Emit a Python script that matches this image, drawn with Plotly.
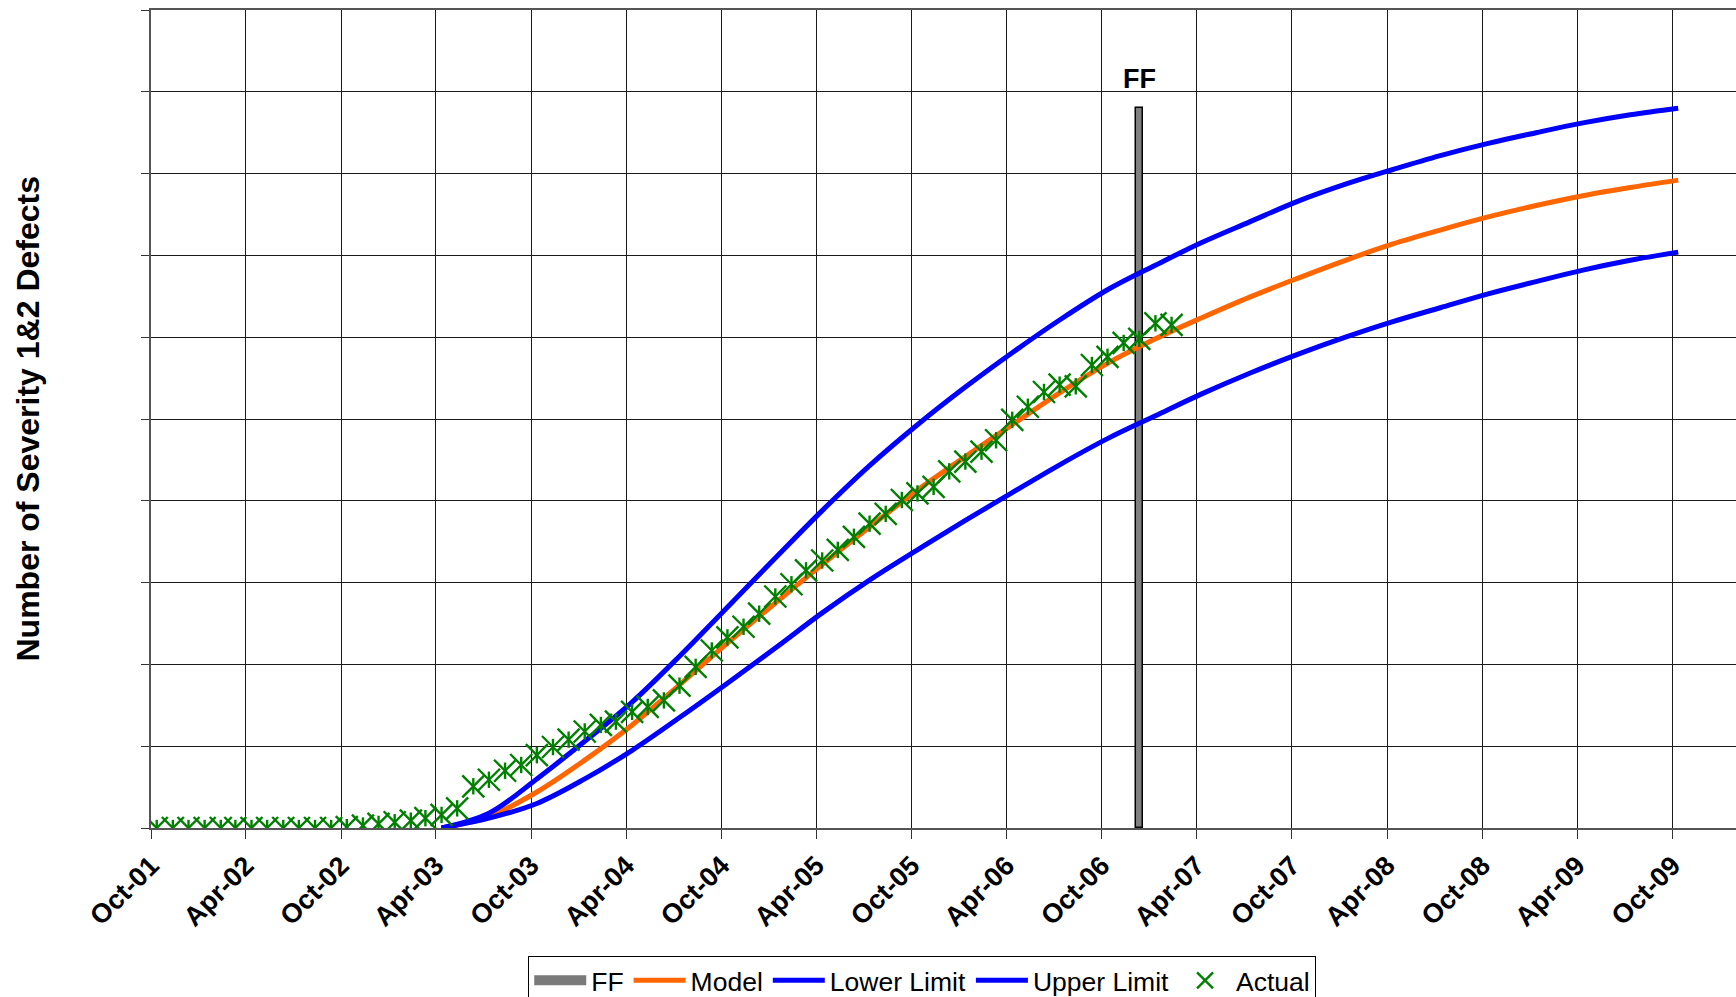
import plotly.graph_objects as go
import pandas as pd

# ---------------- data ----------------
actual_values = [
    0, 0, 0, 0, 0, 0, 0, 0, 0, 0, 0, 0,
    0.1, 0.3, 0.5, 0.7, 0.9, 1.2, 1.6, 2.4, 5.1, 5.9, 7.0, 7.7, 8.9, 9.9,
    10.8, 11.8, 12.6, 13.0, 14.2, 14.8, 15.6, 17.4, 19.7, 21.7, 23.3, 24.6,
    26.2, 28.3, 29.8, 31.5, 32.7, 34.0, 35.6, 37.2, 38.4, 40.1, 40.9, 41.7,
    43.6, 44.8, 46.0, 47.4, 49.9, 51.5, 53.3, 54.2, 54.0, 56.6, 57.6, 59.3,
    59.8, 61.7, 61.5,
]
actual_dates = pd.date_range("2001-10-12", periods=len(actual_values),
                             freq=pd.DateOffset(months=1))

curve_dates = pd.date_range("2003-04-12", "2009-10-12",
                            freq=pd.DateOffset(months=3))
model_values = [0, 1.4, 4.4, 8.3, 12.6, 17.5, 22.6, 27.5, 32.2, 36.8, 41.3,
                45.4, 49.3, 53.2, 56.8, 59.8, 62.4, 64.9, 67.2, 69.4, 71.4,
                73.1, 74.7, 76.1, 77.3, 78.3, 79.2]
lower_values = [0, 1.2, 3.0, 6.0, 9.5, 13.5, 17.7, 22.0, 26.3, 30.3, 34.0,
                37.6, 41.0, 44.4, 47.6, 50.4, 53.1, 55.6, 57.9, 60.0, 61.9,
                63.6, 65.3, 66.8, 68.2, 69.4, 70.4]
upper_values = [0, 1.8, 6.0, 10.6, 15.4, 21.0, 27.0, 33.0, 38.8, 44.3, 49.3,
                53.9, 58.1, 62.1, 65.8, 68.8, 71.6, 74.1, 76.6, 78.7, 80.5,
                82.2, 83.7, 85.0, 86.2, 87.2, 88.0]

ff_date = ["2006-12-12"]
ff_height = [88.0]
ff_label = "FF"

y_title = "Number of Severity 1&2 Defects"

# ---------------- figure ----------------
FONT = "Liberation Sans, Arial, sans-serif"
GREEN = "#008000"
fig = go.Figure()

fig.add_trace(go.Bar(
    x=ff_date, y=ff_height, name="FF", showlegend=False,
    width=[13.4 * 86400000],
    marker=dict(color="#808080", line=dict(color="#000000", width=1.5)),
))
# legend swatch for the FF bar (wide grey rectangle)
fig.add_trace(go.Scatter(
    x=[None], y=[None], name="FF", mode="lines",
    line=dict(color="#7a7a7a", width=12),
))
fig.add_trace(go.Scatter(
    x=curve_dates, y=model_values, name="Model", mode="lines",
    line=dict(color="#FF6600", width=5, shape="spline"),
))
fig.add_trace(go.Scatter(
    x=curve_dates, y=lower_values, name="Lower Limit", mode="lines",
    line=dict(color="#0000FF", width=5, shape="spline"),
))
fig.add_trace(go.Scatter(
    x=curve_dates, y=upper_values, name="Upper Limit", mode="lines",
    line=dict(color="#0000FF", width=5, shape="spline"),
))
# Excel-style "star" marker: an X plus a vertical stroke (drawn as a
# cap-less error bar of fixed half-length)
fig.add_trace(go.Scatter(
    x=actual_dates, y=actual_values, name="Actual", mode="markers",
    marker=dict(symbol="x-thin-open", size=22, color=GREEN,
                line=dict(color=GREEN, width=2.4)),
    error_y=dict(type="constant", value=1.0, width=0, thickness=2.4,
                 color=GREEN),
))

fig.add_annotation(
    x=ff_date[0], y=ff_height[0], xref="x", yref="y",
    text=ff_label, showarrow=False, yanchor="middle", yshift=29,
    font=dict(family=FONT, size=27, color="#000000", weight="bold"),
)
fig.add_annotation(
    x=-0.0779, y=0.5, xref="paper", yref="paper", textangle=-90,
    text=y_title, showarrow=False, xanchor="center", yanchor="middle",
    font=dict(family=FONT, size=32, color="#000000", weight="bold"),
)

fig.update_layout(
    width=1736, height=997,
    margin=dict(l=151, r=0, t=10, b=169, autoexpand=False),
    paper_bgcolor="#FFFFFF", plot_bgcolor="#FFFFFF",
    font=dict(family=FONT, color="#000000"),
    showlegend=True,
    legend=dict(
        orientation="h", x=0.238, y=-0.156, xanchor="left", yanchor="top",
        bordercolor="#000000", borderwidth=1, bgcolor="#FFFFFF",
        font=dict(family=FONT, size=26.5, color="#000000"),
        itemwidth=52, traceorder="normal",
    ),
    bargap=0,
)
fig.update_xaxes(
    type="date", range=["2001-10-01", "2010-01-31"], automargin=False,
    tick0="2001-10-01", dtick="M6", tickformat="%b-%y", tickangle=-45,
    tickfont=dict(family=FONT, size=27, color="#000000", weight="bold"),
    ticks="outside", ticklen=9, tickcolor="#333333", tickwidth=1,
    showgrid=True, gridcolor="#1a1a1a", gridwidth=1,
    showline=True, linecolor="#555555", linewidth=2, mirror=True,
    zeroline=False,
)
fig.update_yaxes(
    range=[0, 100], dtick=10, tick0=0, showticklabels=False, automargin=False,
    ticks="outside", ticklen=8, tickcolor="#333333", tickwidth=1,
    showgrid=True, gridcolor="#1a1a1a", gridwidth=1,
    showline=True, linecolor="#555555", linewidth=2,
    zeroline=False,
)

fig.write_html(
    "out.html",
    config={"displayModeBar": False},
    post_script="document.body.style.margin='0';"
                "document.body.style.overflow='hidden';",
)
